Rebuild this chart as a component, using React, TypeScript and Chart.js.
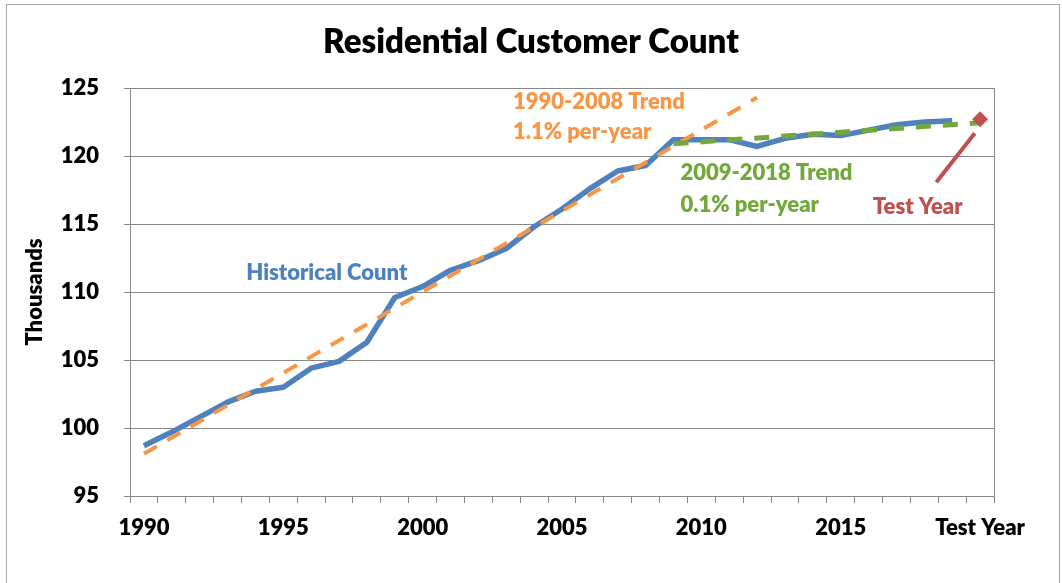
import React, { useEffect, useRef } from 'react';
import { Chart, registerables } from 'chart.js';

Chart.register(...registerables);

// ---------- data ----------
const categories = [
  '1990', '1991', '1992', '1993', '1994', '1995', '1996', '1997', '1998', '1999',
  '2000', '2001', '2002', '2003', '2004', '2005', '2006', '2007', '2008', '2009',
  '2010', '2011', '2012', '2013', '2014', '2015', '2016', '2017', '2018', '2019',
  'Test Year',
];

const historicalCount = [
  98.7, 99.7, 100.8, 101.9, 102.7, 103.0, 104.4, 104.9, 106.3, 109.6,
  110.4, 111.6, 112.3, 113.2, 114.8, 116.1, 117.6, 118.9, 119.3, 121.2,
  121.2, 121.2, 120.7, 121.3, 121.6, 121.5, 121.9, 122.3, 122.5, 122.6,
  null,
];

// 1990-2008 trend line (start and end of fitted line)
const trend1990to2008 = [
  98.1, null, null, null, null, null, null, null, null, null,
  null, null, null, null, null, null, null, null, null, null,
  null, null, 124.3, null, null, null, null, null, null, null,
  null,
];

// 2009-2018 trend line (start and end of fitted line)
const trend2009to2018 = [
  null, null, null, null, null, null, null, null, null, null,
  null, null, null, null, null, null, null, null, null, 120.9,
  null, null, null, null, null, null, null, null, null, null,
  122.45,
];

const testYearValue = [
  null, null, null, null, null, null, null, null, null, null,
  null, null, null, null, null, null, null, null, null, null,
  null, null, null, null, null, null, null, null, null, null,
  122.7,
];

const yMin = 95;
const yMax = 125;
const yStep = 5;
const labelEvery = 5;

const BLUE = '#4F81BD';
const ORANGE = '#F79646';
const GREEN = '#72A83C';
const RED = '#C0504D';
const GRID = '#868686';
const FONT = 'Lato, "Open Sans", sans-serif';
const WEIGHT = 800;

// text annotations in data coordinates (category index, value)
const annotations = [
  { text: '1990-2008 Trend', x: 13.24, y: 124.0, color: ORANGE },
  { text: '1.1% per-year', x: 13.24, y: 121.8, color: ORANGE },
  { text: '2009-2018 Trend', x: 19.25, y: 118.73, color: GREEN },
  { text: '0.1% per-year', x: 19.25, y: 116.4, color: GREEN },
  { text: 'Test Year', x: 26.15, y: 116.27, color: RED },
  { text: 'Historical Count', x: 3.67, y: 111.37, color: BLUE },
];

const pointer = { x1: 29.81, y1: 121.67, x2: 28.43, y2: 118.07 };

const framePlugin = {
  id: 'frame',
  beforeDraw(chart: any) {
    const { ctx, width, height } = chart;
    ctx.save();
    ctx.fillStyle = '#ffffff';
    ctx.fillRect(0, 0, width, height);
    ctx.strokeStyle = '#a6a6a6';
    ctx.lineWidth = 1;
    ctx.strokeRect(6.5, 4.5, 1053, height + 10);
    // title
    ctx.fillStyle = '#000000';
    ctx.font = `${WEIGHT} 33px ${FONT}`;
    ctx.textAlign = 'center';
    ctx.textBaseline = 'alphabetic';
    ctx.fillText('Residential Customer Count', width / 2, 53);
    ctx.restore();
  },
  beforeDatasetsDraw(chart: any) {
    const { ctx, chartArea } = chart;
    ctx.save();
    ctx.strokeStyle = GRID;
    ctx.lineWidth = 1;
    ctx.beginPath();
    const x = Math.round(chartArea.right) + 0.5;
    ctx.moveTo(x, chartArea.top);
    ctx.lineTo(x, chartArea.bottom);
    ctx.stroke();
    ctx.restore();
  },
  afterDatasetsDraw(chart: any) {
    const { ctx, scales } = chart;
    const xs = scales.x;
    const ys = scales.y;
    ctx.save();
    ctx.font = `${WEIGHT} 22px ${FONT}`;
    ctx.textAlign = 'left';
    ctx.textBaseline = 'middle';
    for (const a of annotations) {
      ctx.fillStyle = a.color;
      ctx.fillText(a.text, xs.getPixelForValue(a.x), ys.getPixelForValue(a.y));
    }
    ctx.strokeStyle = RED;
    ctx.lineWidth = 4;
    ctx.beginPath();
    ctx.moveTo(xs.getPixelForValue(pointer.x1), ys.getPixelForValue(pointer.y1));
    ctx.lineTo(xs.getPixelForValue(pointer.x2), ys.getPixelForValue(pointer.y2));
    ctx.stroke();
    ctx.restore();
  },
};

export default function App() {
  const ref = useRef<HTMLCanvasElement | null>(null);

  useEffect(() => {
    document.body.style.margin = '0';
    const canvas = ref.current;
    if (!canvas) return;
    const tickFont = { family: FONT, size: 22, weight: WEIGHT as any };
    const chart = new Chart(canvas, {
      type: 'line',
      data: {
        labels: categories,
        datasets: [
          {
            label: 'Historical Count',
            data: historicalCount,
            borderColor: BLUE,
            borderWidth: 5.5,
            pointRadius: 0,
            tension: 0,
            borderJoinStyle: 'round',
            order: 4,
          },
          {
            label: '1990-2008 Trend',
            data: trend1990to2008,
            borderColor: ORANGE,
            borderWidth: 4,
            borderDash: [15, 12],
            pointRadius: 0,
            spanGaps: true,
            order: 3,
          },
          {
            label: '2009-2018 Trend',
            data: trend2009to2018,
            borderColor: GREEN,
            borderWidth: 5,
            borderDash: [15, 12],
            pointRadius: 0,
            spanGaps: true,
            order: 2,
          },
          {
            label: 'Test Year',
            data: testYearValue,
            showLine: false,
            pointStyle: 'rectRot',
            pointRadius: 8,
            pointBackgroundColor: RED,
            pointBorderColor: RED,
            pointBorderWidth: 0,
            order: 1,
          },
        ],
      },
      options: {
        responsive: false,
        animation: false,
        devicePixelRatio: 1,
        layout: { padding: { left: 0, top: 88, right: 68, bottom: 0 } },
        plugins: {
          legend: { display: false },
          tooltip: { enabled: false },
          title: { display: false },
        },
        scales: {
          x: {
            offset: true,
            grid: {
              display: true,
              drawOnChartArea: false,
              drawTicks: true,
              tickLength: 7,
              offset: true,
              color: GRID,
              lineWidth: 1,
            },
            border: { color: GRID, width: 1 },
            ticks: {
              autoSkip: false,
              maxRotation: 0,
              padding: 12,
              font: tickFont,
              color: '#000000',
              callback: (_v: any, i: number) => (i % labelEvery === 0 ? categories[i] : ''),
            },
            afterFit: (s: any) => {
              s.height = 87;
            },
          },
          y: {
            min: yMin,
            max: yMax,
            ticks: { stepSize: yStep, padding: 25, font: tickFont, color: '#000000' },
            grid: { color: GRID, lineWidth: 1, tickLength: 6 },
            border: { color: GRID, width: 1 },
            title: {
              display: true,
              text: 'Thousands',
              font: tickFont,
              color: '#000000',
              padding: { top: 22, bottom: 0 },
            },
            afterFit: (s: any) => {
              s.width = 130;
            },
          },
        },
      },
      plugins: [framePlugin],
    });
    return () => chart.destroy();
  }, []);

  return <canvas ref={ref} width={1062} height={583} style={{ display: 'block' }} />;
}
